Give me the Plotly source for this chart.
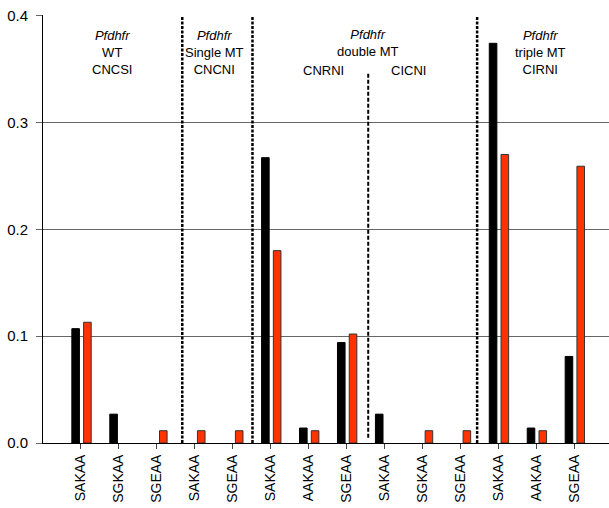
import plotly.graph_objects as go

labels = ["SAKAA", "SGKAA", "SGEAA", "SAKAA", "SGEAA", "SAKAA", "AAKAA",
          "SGEAA", "SAKAA", "SGKAA", "SGEAA", "SAKAA", "AAKAA", "SGEAA"]
positions = list(range(len(labels)))
black_vals = [0.107, 0.027, 0, 0, 0, 0.267, 0.014, 0.094, 0.027, 0, 0, 0.374, 0.014, 0.081]
red_vals = [0.113, 0, 0.0115, 0.0115, 0.0115, 0.180, 0.0115, 0.102, 0, 0.0115, 0.0115, 0.270, 0.0115, 0.259]

major_dividers = [2.67, 4.52, 10.44]
minor_divider = 7.57

group_texts = [
    (0.82, 0.3655, "<i>Pfdhfr</i><br>WT<br>CNCSI"),
    (3.53, 0.3655, "<i>Pfdhfr</i><br>Single MT<br>CNCNI"),
    (7.55, 0.374, "<i>Pfdhfr</i><br>double MT"),
    (6.39, 0.3485, "CNRNI"),
    (8.64, 0.3485, "CICNI"),
    (12.1, 0.3655, "<i>Pfdhfr</i><br>triple MT<br>CIRNI"),
]

font = "Liberation Sans, Arial, Helvetica, sans-serif"


def nz(vals):
    return [v if v != 0 else None for v in vals]


fig = go.Figure()
fig.add_trace(go.Bar(x=positions, y=nz(black_vals), width=0.2, offset=-0.24,
                     marker=dict(color="black", line=dict(color="black", width=1))))
fig.add_trace(go.Bar(x=positions, y=nz(red_vals), width=0.2, offset=0.07,
                     marker=dict(color="#ff3300", line=dict(color="#333333", width=1))))

for d in major_dividers:
    fig.add_shape(type="line", x0=d, x1=d, y0=0, y1=0.4, xref="x", yref="y",
                  line=dict(color="black", width=2.5, dash="3px,1.5px"))
fig.add_shape(type="line", x0=minor_divider, x1=minor_divider, y0=0.005, y1=0.347,
              xref="x", yref="y", line=dict(color="black", width=2, dash="4px,2px"))

for x, y, t in group_texts:
    fig.add_annotation(x=x, y=y, text=t, showarrow=False, xref="x", yref="y",
                       font=dict(size=13, color="black", family=font),
                       xanchor="center", yanchor="middle", align="center")

fig.update_layout(
    width=609, height=508,
    margin=dict(l=43, r=0, t=15, b=65, autoexpand=False),
    plot_bgcolor="white", paper_bgcolor="white",
    barmode="overlay", showlegend=False,
    font=dict(family=font, color="black"),
)
fig.update_xaxes(
    range=[-1.0, 13.915], tickmode="array", tickvals=positions, ticktext=labels,
    tickangle=-90, tickfont=dict(size=14, color="black"), automargin=False,
    showline=True, linecolor="black", linewidth=1,
    ticks="outside", ticklen=5, tickcolor="#444", showgrid=False, zeroline=False,
)
fig.update_yaxes(
    range=[0, 0.4005], tickvals=[0, 0.1, 0.2, 0.3, 0.4],
    ticktext=["0.0", "0.1", "0.2", "0.3", "0.4"],
    tickfont=dict(size=15, color="black"), automargin=False,
    showline=True, linecolor="black", linewidth=1,
    ticks="outside", ticklen=6, tickcolor="#666",
    showgrid=True, gridcolor="#666", gridwidth=1.2, zeroline=False,
    ticklabelstandoff=5,
)

fig.write_html(
    "out.html",
    config={"displayModeBar": False},
    post_script="document.body.style.margin='0';document.body.style.overflow='hidden';",
)
